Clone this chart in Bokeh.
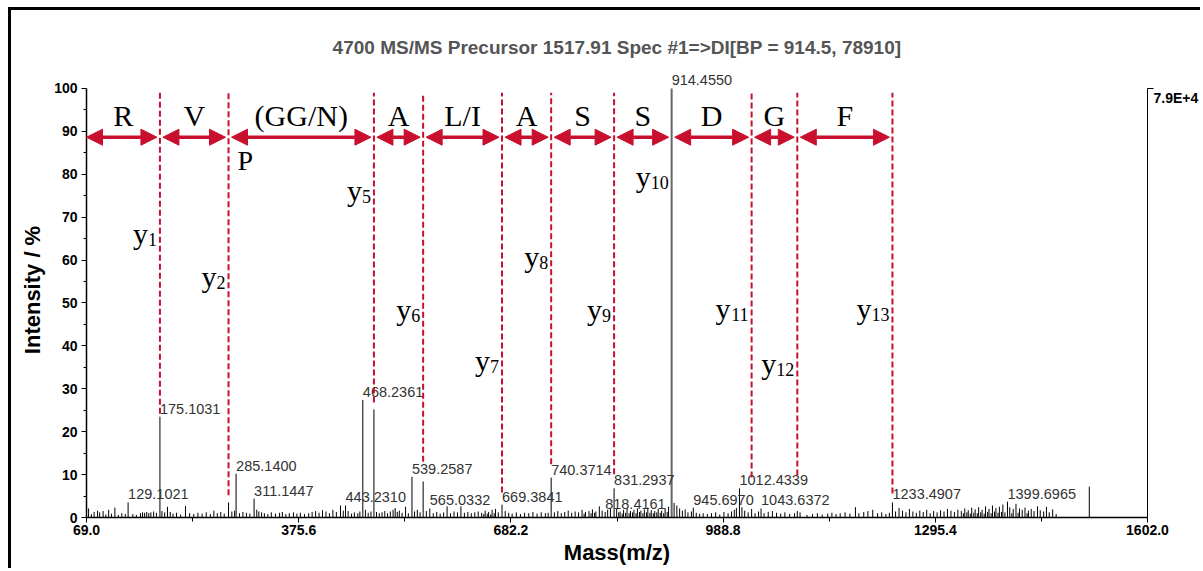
from bokeh.plotting import figure
from bokeh.models import (Range1d, LinearAxis, FixedTicker, ColumnDataSource, Arrow,
                          NormalHead, PrintfTickFormatter)
from bokeh.core.properties import value
from bokeh.embed import file_html
from bokeh.resources import INLINE

# ---------------------------------------------------------------- data
title_text = "4700 MS/MS Precursor 1517.91 Spec #1=>DI[BP = 914.5, 78910]"
x_ticks = [69.0, 375.6, 682.2, 988.8, 1295.4, 1602.0]
y_ticks = [0, 10, 20, 30, 40, 50, 60, 70, 80, 90, 100]
base_peak_abs = "7.9E+4"

# annotated peaks (m/z, relative intensity %)
labeled_mz = [129.1021, 175.1031, 285.1400, 311.1447, 443.2310, 468.2361, 539.2587,
              565.0332, 669.3841, 740.3714, 818.4161, 831.2937, 914.4550, 945.6970,
              1012.4339, 1043.6372, 1233.4907, 1399.6965]
labeled_int = [3.5, 23.5, 10.2, 4.4, 2.8, 27.4, 9.5,
               2.1, 3.0, 9.3, 1.3, 6.8, 100.0, 2.3,
               6.8, 2.1, 3.5, 3.7]

# strong peaks without a mass label
other_mz = [274.2, 484.3, 555.4, 1030.0, 1096.0, 1517.9]
other_int = [3.5, 25.2, 8.4, 2.0, 1.5, 7.2]

# low-level peaks (m/z, %)
noise_peaks = [
    (72, 2.1), (76, 0.8), (80, 1.3), (85, 1.6), (88, 1.2), (93, 1.5), (97, 0.7), (101, 1.8),
    (105, 0.9), (110, 2.3), (115, 0.6), (120, 1.0), (125, 0.8), (136, 0.8), (141, 0.6),
    (147, 1.0), (150, 1.2), (153, 1.1), (156, 1.3), (159, 1.0), (162, 1.2), (166, 1.4),
    (170, 1.1), (178, 1.5), (182, 1.2), (186, 2.5), (190, 1.3), (194, 0.9), (199, 1.1),
    (205, 0.7), (212, 2.7), (218, 1.0), (224, 0.8), (230, 1.1), (236, 0.9), (242, 1.2),
    (248, 0.8), (253, 1.6), (258, 1.0), (263, 1.3), (268, 0.9), (279, 1.4), (283, 1.6),
    (290, 1.0), (295, 1.3), (300, 1.1), (305, 0.9), (315, 1.8), (318, 1.4), (322, 1.2),
    (326, 1.0), (331, 0.8), (336, 1.2), (342, 0.9), (348, 1.1), (352, 1.3), (357, 0.8),
    (362, 1.0), (368, 1.2), (373, 0.9), (378, 1.1), (384, 0.8), (390, 1.0), (395, 1.3),
    (400, 1.5), (405, 1.1), (410, 1.7), (415, 1.4), (420, 1.0), (425, 1.8), (430, 1.3),
    (436, 2.8), (440, 1.6), (447, 1.5), (452, 0.9), (456, 1.2), (461, 1.0), (464, 1.4),
    (472, 1.8), (476, 1.1), (480, 1.4), (488, 1.3), (492, 1.0), (496, 1.2), (500, 1.5),
    (504, 1.0), (508, 1.4), (512, 1.8), (515, 2.2), (518, 1.3), (521, 1.6), (525, 1.1),
    (530, 2.5), (534, 1.0), (543, 1.4), (547, 1.8), (551, 1.2), (560, 1.5), (570, 1.0),
    (575, 1.3), (580, 0.9), (585, 1.2), (590, 2.6), (595, 1.0), (600, 1.4), (605, 1.2),
    (610, 2.6), (615, 1.1), (620, 1.3), (625, 1.0), (630, 1.2), (635, 1.4), (640, 1.1),
    (643, 0.8), (645, 1.6), (648, 0.9), (650, 1.3), (653, 0.7), (655, 1.8), (658, 1.0),
    (660, 2.0), (664, 1.2), (674, 1.5), (679, 1.1), (684, 0.9), (690, 1.2), (696, 0.8),
    (702, 1.1), (708, 1.0), (714, 1.3), (720, 0.9), (726, 1.2), (732, 1.0), (736, 1.1),
    (745, 1.2), (750, 1.5), (755, 1.0), (760, 1.3), (765, 1.6), (770, 1.1), (775, 1.4),
    (780, 1.2), (785, 1.8), (788, 0.9), (790, 1.3), (795, 1.5), (798, 1.0), (800, 1.9),
    (803, 1.1), (805, 1.4), (810, 2.6), (814, 1.6), (822, 1.8), (826, 2.2), (835, 2.0),
    (838, 1.2), (840, 1.4), (843, 0.9), (845, 1.8), (848, 1.1), (850, 2.2), (853, 1.0),
    (855, 1.5), (858, 1.2), (860, 1.8), (863, 1.0), (865, 2.1), (868, 1.3), (870, 1.6),
    (873, 1.0), (875, 1.9), (878, 1.2), (880, 2.3), (883, 1.1), (885, 1.7), (888, 1.0),
    (890, 1.5), (893, 1.2), (895, 2.0), (898, 1.1), (900, 1.6), (903, 1.0), (905, 2.2),
    (908, 1.3), (910, 2.5), (918, 3.4), (922, 2.8), (926, 2.1), (930, 1.6), (934, 1.9),
    (938, 1.2), (943, 1.4), (950, 1.1), (955, 0.9), (960, 1.0), (966, 0.8), (972, 1.0),
    (978, 1.2), (984, 0.7), (990, 1.3), (996, 1.0), (1001, 1.4), (1005, 1.8), (1008, 2.2),
    (1016, 2.4), (1020, 1.6), (1025, 1.2), (1035, 1.0), (1040, 1.4), (1048, 1.0),
    (1054, 1.3), (1060, 1.5), (1066, 1.1), (1072, 0.9), (1078, 1.2), (1085, 0.8),
    (1092, 1.0), (1100, 1.2), (1110, 0.6), (1118, 0.8), (1125, 1.0), (1132, 0.7),
    (1140, 0.9), (1146, 1.1), (1152, 0.8), (1158, 1.0), (1165, 1.2), (1172, 0.9),
    (1180, 2.4), (1185, 1.0), (1192, 1.3), (1198, 1.5), (1205, 1.8), (1212, 1.0),
    (1218, 1.2), (1224, 0.8), (1229, 1.1), (1238, 1.4), (1243, 2.2), (1248, 1.6),
    (1253, 1.2), (1258, 2.0), (1263, 1.4), (1268, 1.1), (1273, 1.6), (1278, 1.3),
    (1283, 1.8), (1288, 1.0), (1293, 1.5), (1298, 1.2), (1303, 1.7), (1308, 1.4),
    (1313, 2.0), (1318, 1.6), (1323, 1.3), (1328, 1.8), (1333, 1.5), (1336, 1.0),
    (1338, 2.1), (1341, 1.2), (1343, 1.7), (1346, 0.9), (1348, 2.3), (1351, 1.1),
    (1353, 1.9), (1356, 1.0), (1358, 2.4), (1361, 1.2), (1363, 1.8), (1366, 0.9),
    (1368, 2.6), (1371, 1.3), (1373, 2.0), (1376, 1.0), (1378, 2.8), (1381, 1.4),
    (1383, 2.2), (1386, 1.1), (1388, 2.5), (1391, 1.3), (1393, 3.0), (1396, 1.2),
    (1403, 2.4), (1406, 1.0), (1408, 2.0), (1412, 3.2), (1415, 1.1), (1417, 2.1),
    (1421, 1.8), (1425, 2.3), (1428, 1.0), (1430, 1.6), (1434, 2.0), (1438, 1.5),
    (1443, 2.6), (1447, 1.7), (1452, 1.4), (1456, 2.5), (1460, 1.2), (1465, 1.9),
    (1470, 0.8),
]

# de novo sequence ladder
residues = ["R", "V", "(GG/N)", "A", "L/I", "A", "S", "S", "D", "G", "F"]
ion_mz = [175.1031, 274.2, 484.3, 555.4, 669.3841, 740.3714, 831.2937, 914.4550,
          1030.0, 1096.0, 1233.4907]
ion_index = ["1", "2", "5", "6", "7", "8", "9", "10", "11", "12", "13"]
ion_label_level = [62.9, 52.9, 72.9, 45.2, 33.3, 57.5, 45.2, 76.2, 45.5, 32.6, 45.5]
guide_bottom = [24.2, 5.2, 26.8, 13.0, 5.8, 12.4, 10.1, None, 9.3, 9.8, 5.6]

RED = "#C8102E"
SANS = "Liberation Sans"
SERIF = "Liberation Serif"

# ---------------------------------------------------------------- figure
# canvas sits inside a page frame drawn with a left/top border
PAD_L, PAD_T, FRAME_W = 8, 7, 3
W, H = 1203 - PAD_L - FRAME_W, 571 - PAD_T - FRAME_W
p = figure(width=W, height=H, x_range=Range1d(69.0, 1602.0), y_range=Range1d(0, 106.06),
           output_backend="svg", toolbar_location=None,
           min_border_left=75, min_border_right=56, min_border_top=52, min_border_bottom=54,
           x_axis_label="Mass(m/z)", y_axis_label="Intensity / %",
           margin=(PAD_T, 0, 0, PAD_L),
           styles={"border-left": f"{FRAME_W}px solid black",
                   "border-top": f"{FRAME_W}px solid black"})
p.outline_line_color = None
p.grid.visible = False
p.background_fill_color = "white"
p.border_fill_color = "white"

p.title.text = title_text
p.title.align = "center"
p.title.text_font = SANS
p.title.text_font_size = "19px"
p.title.text_font_style = "bold"
p.title.text_color = "#555555"

minor_x = [(a + b) / 2 for a, b in zip(x_ticks[:-1], x_ticks[1:])]
xa = p.xaxis[0]
xa.ticker = FixedTicker(ticks=x_ticks, minor_ticks=minor_x)
xa.formatter = PrintfTickFormatter(format="%.1f")
xa.bounds = (x_ticks[0], x_ticks[-1])

minor_y = [t + 5 for t in y_ticks[:-1]]
ya = p.yaxis[0]
ya.ticker = FixedTicker(ticks=y_ticks, minor_ticks=minor_y)
ya.bounds = (0, 100)

for ax in (xa, ya):
    ax.axis_line_color = "black"
    ax.axis_line_width = 1.5
    ax.major_tick_line_color = "black"
    ax.minor_tick_line_color = "black"
    ax.major_tick_out = 5
    ax.major_tick_in = 0
    ax.minor_tick_out = 3
    ax.minor_tick_in = 0
    ax.major_label_text_font = SANS
    ax.major_label_text_font_size = "14px"
    ax.major_label_text_font_style = "bold"
    ax.major_label_text_color = "black"
    ax.axis_label_text_font = SANS
    ax.axis_label_text_font_size = "22px"
    ax.axis_label_text_font_style = "bold"
    ax.axis_label_text_color = "black"
xa.minor_tick_out = 4
xa.major_label_standoff = 2
xa.axis_label_standoff = 2
ya.major_label_standoff = 4
ya.axis_label_standoff = 6

# right-hand absolute intensity scale: a tick at full scale and the
# base-peak counts written just under it
abs_label_pos = 97.9
ra = LinearAxis(ticker=FixedTicker(ticks=[abs_label_pos], minor_ticks=[100]), bounds=(0, 100),
                major_label_overrides={abs_label_pos: base_peak_abs})
ra.axis_line_color = "black"
ra.axis_line_width = 1
ra.major_tick_line_color = None
ra.major_tick_out = 0
ra.major_tick_in = 0
ra.minor_tick_line_color = "black"
ra.minor_tick_out = 6
ra.minor_tick_in = 0
ra.major_label_standoff = 0
ra.major_label_text_font = SANS
ra.major_label_text_font_size = "14px"
ra.major_label_text_font_style = "bold"
ra.major_label_text_color = "black"
p.add_layout(ra, "right")

# ---------------------------------------------------------------- spectrum
noise_mz = [m for m, _ in noise_peaks]
noise_int = [v for _, v in noise_peaks]
base_i = labeled_int.index(max(labeled_int))
stick_mz = noise_mz + other_mz + [m for i, m in enumerate(labeled_mz) if i != base_i]
stick_int = noise_int + other_int + [v for i, v in enumerate(labeled_int) if i != base_i]
p.segment(x0="mz", y0=0, x1="mz", y1="inten", line_color="black", line_width=1,
          source=ColumnDataSource(dict(mz=stick_mz, inten=stick_int)))
p.segment(x0=[labeled_mz[base_i]], y0=[0], x1=[labeled_mz[base_i]], y1=[labeled_int[base_i]],
          line_color="#666666", line_width=2)

lab_src = ColumnDataSource(dict(mz=labeled_mz, inten=labeled_int,
                                txt=[f"{m:.4f}" for m in labeled_mz]))
p.text(x="mz", y="inten", text="txt", source=lab_src, text_font=value(SANS),
       text_font_size="14.5px", text_color="#333333", text_align="left",
       text_baseline="alphabetic", y_offset=-8)

# ---------------------------------------------------------------- sequence ladder
gx = [m for m, b in zip(ion_mz, guide_bottom) if b is not None]
gb = [b for b in guide_bottom if b is not None]
p.segment(x0="x", y0="b", x1="x", y1=99, source=ColumnDataSource(dict(x=gx, b=gb)),
          line_color=RED, line_width=2, line_dash="6 3")

px_per_unit = (W - 75 - 56) / (x_ticks[-1] - x_ticks[0])
inset = 3 / px_per_unit
edges = [x_ticks[0]] + ion_mz
a_x0 = [edges[0]] + [e + inset for e in edges[1:-1]]
a_x1 = [e - inset for e in edges[1:]]
arrow_level = 88.65
arr_src = ColumnDataSource(dict(x0=a_x0, x1=a_x1, y=[arrow_level] * len(a_x0)))
p.add_layout(Arrow(source=arr_src, x_start="x0", y_start="y", x_end="x1", y_end="y",
                   line_color=RED, line_width=3.5,
                   start=NormalHead(size=16, fill_color=RED, line_color=RED, line_width=1),
                   end=NormalHead(size=16, fill_color=RED, line_color=RED, line_width=1)))

mids = [(a + b) / 2 for a, b in zip(edges[:-1], edges[1:])]
p.text(x=mids, y=[91.1] * len(mids), text=residues, text_font=value(SERIF),
       text_font_size="30px", text_color="black", text_align="center",
       text_baseline="alphabetic", y_offset=-11)
p.text(x=[ion_mz[1]], y=[80.9], text=["P"], text_font=value(SERIF),
       text_font_size="28px", text_color="black", text_align="left",
       text_baseline="alphabetic", x_offset=9, y_offset=-10)

ion_src = ColumnDataSource(dict(x=ion_mz, y=ion_label_level, idx=ion_index,
                                xoff=[-3 - 9 * len(s) for s in ion_index],
                                ys=["y"] * len(ion_mz)))
p.text(x="x", y="y", text="idx", source=ion_src, text_font=value(SERIF),
       text_font_size="18px", text_color="black", text_align="right",
       text_baseline="alphabetic", x_offset=-3, y_offset=-8)
p.text(x="x", y="y", text="ys", source=ion_src, text_font=value(SERIF),
       text_font_size="30px", text_color="black", text_align="right",
       text_baseline="alphabetic", x_offset="xoff", y_offset=-14)

open("out.html", "w").write(file_html(p, INLINE))
